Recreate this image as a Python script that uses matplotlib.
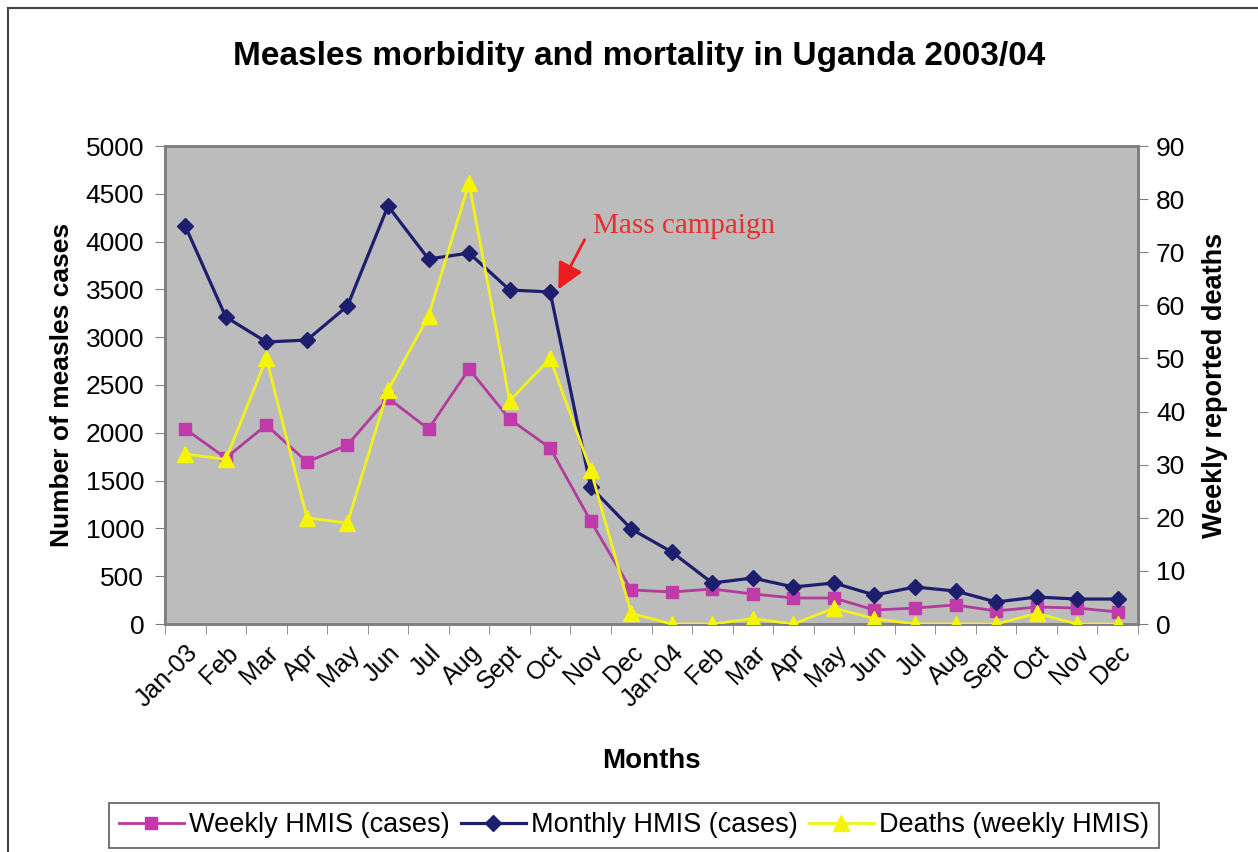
import matplotlib
matplotlib.use("Agg")
import matplotlib.pyplot as plt
import numpy as np

plt.rcParams["font.family"] = ["Liberation Sans", "DejaVu Sans"]

months = ["Jan-03", "Feb", "Mar", "Apr", "May", "Jun", "Jul", "Aug", "Sept",
          "Oct", "Nov", "Dec", "Jan-04", "Feb", "Mar", "Apr", "May", "Jun",
          "Jul", "Aug", "Sept", "Oct", "Nov", "Dec"]

weekly_cases = [2040, 1736, 2082, 1695, 1872, 2364, 2040, 2667, 2144, 1841,
                1077, 356, 335, 366, 314, 272, 272, 146, 167, 199, 136, 178,
                167, 126]
monthly_cases = [4163, 3211, 2950, 2970, 3326, 4372, 3818, 3880, 3494, 3473,
                 1433, 994, 753, 429, 481, 387, 429, 303, 387, 345, 230, 282,
                 261, 261]
weekly_deaths = [32, 31, 50, 20, 19, 44, 58, 83, 42, 50, 29, 2, 0, 0, 1, 0,
                 3, 1, 0, 0, 0, 2, 0, 0]

c_weekly = "#b23c9e"
c_monthly = "#1e1e6e"
c_deaths = "#f2f21a"
grey = "#808080"

fig = plt.figure(figsize=(12.58, 8.52), dpi=100)
ax = fig.add_axes([165 / 1258, 1 - 624 / 852, (1138 - 165) / 1258, (624 - 146) / 852])
ax.set_facecolor("#bcbcbc")
x = np.arange(len(months))

ax.plot(x, weekly_cases, color=c_weekly, lw=2, marker="s", ms=9,
        mfc="#c13aa9", mec="#c13aa9", label="Weekly HMIS (cases)", zorder=3)
ax.plot(x, monthly_cases, color=c_monthly, lw=2.3, marker="D", ms=8.5,
        mfc=c_monthly, mec=c_monthly, label="Monthly HMIS (cases)", zorder=4)

ax.set_xlim(-0.5, len(months) - 0.5)
ax.set_ylim(0, 5000)
ax.set_yticks(np.arange(0, 5001, 500))
ax.set_xticks(x)
ax.set_xticklabels(months, rotation=45, ha="right", rotation_mode="anchor")
ax.set_xticks(np.arange(-0.5, len(months), 1), minor=True)
ax.tick_params(axis="x", which="major", length=0, labelsize=18, pad=12)
ax.tick_params(axis="x", which="minor", length=7, color=grey, direction="out")
ax.tick_params(axis="y", length=7, color=grey, labelsize=19, pad=8)

ax2 = ax.twinx()
ax2.patch.set_visible(False)
ax2.plot(x, weekly_deaths, color=c_deaths, lw=2, marker="^", ms=11,
         mfc="#f5f500", mec="#f5f500", label="Deaths (weekly HMIS)", zorder=5)
ax2.set_ylim(0, 90)
ax2.set_yticks(np.arange(0, 91, 10))
ax2.tick_params(axis="y", length=7, color=grey, labelsize=19, pad=6)

for a in (ax, ax2):
    for s in a.spines.values():
        s.set_color(grey)
        s.set_linewidth(2)

ax.set_ylabel("Number of measles cases", fontsize=19, fontweight="bold", labelpad=8)
ax2.set_ylabel("Weekly reported deaths", fontsize=19.5, fontweight="bold", labelpad=12)
ax.set_xlabel("Months", fontsize=20, fontweight="bold", labelpad=26)

fig.text(0.508, 1 - 56 / 852, "Measles morbidity and mortality in Uganda 2003/04",
         ha="center", va="center", fontsize=24, fontweight="bold")

# annotation
ax.annotate("", xy=(9.2, 3500), xytext=(9.85, 4020),
            arrowprops=dict(arrowstyle="-|>", color="#ee1c1c", lw=2,
                            mutation_scale=40, shrinkA=0, shrinkB=0))
ax.text(10.05, 4163, "Mass campaign", color="#e8302a", fontsize=21,
        family="Liberation Serif", ha="left", va="center")

h1, l1 = ax.get_legend_handles_labels()
h2, l2 = ax2.get_legend_handles_labels()
leg = fig.legend(h1 + h2, l1 + l2, loc="upper center", ncol=3,
                 bbox_to_anchor=(634 / 1258, 1 - 803 / 852), fontsize=19.5,
                 frameon=True, fancybox=False, edgecolor="#333333",
                 handlelength=2.4, handletextpad=0.2, columnspacing=0.4,
                 borderpad=0.35, borderaxespad=0)
leg.get_frame().set_linewidth(1.2)

# outer chart frame (top and left edges visible)
fig.add_artist(plt.Line2D([8 / 1258, 1], [1 - 8 / 852, 1 - 8 / 852],
                          color="#444444", lw=1.5, transform=fig.transFigure))
fig.add_artist(plt.Line2D([8 / 1258, 8 / 1258], [0, 1 - 8 / 852],
                          color="#444444", lw=1.5, transform=fig.transFigure))

fig.savefig("out.png", dpi=100)
